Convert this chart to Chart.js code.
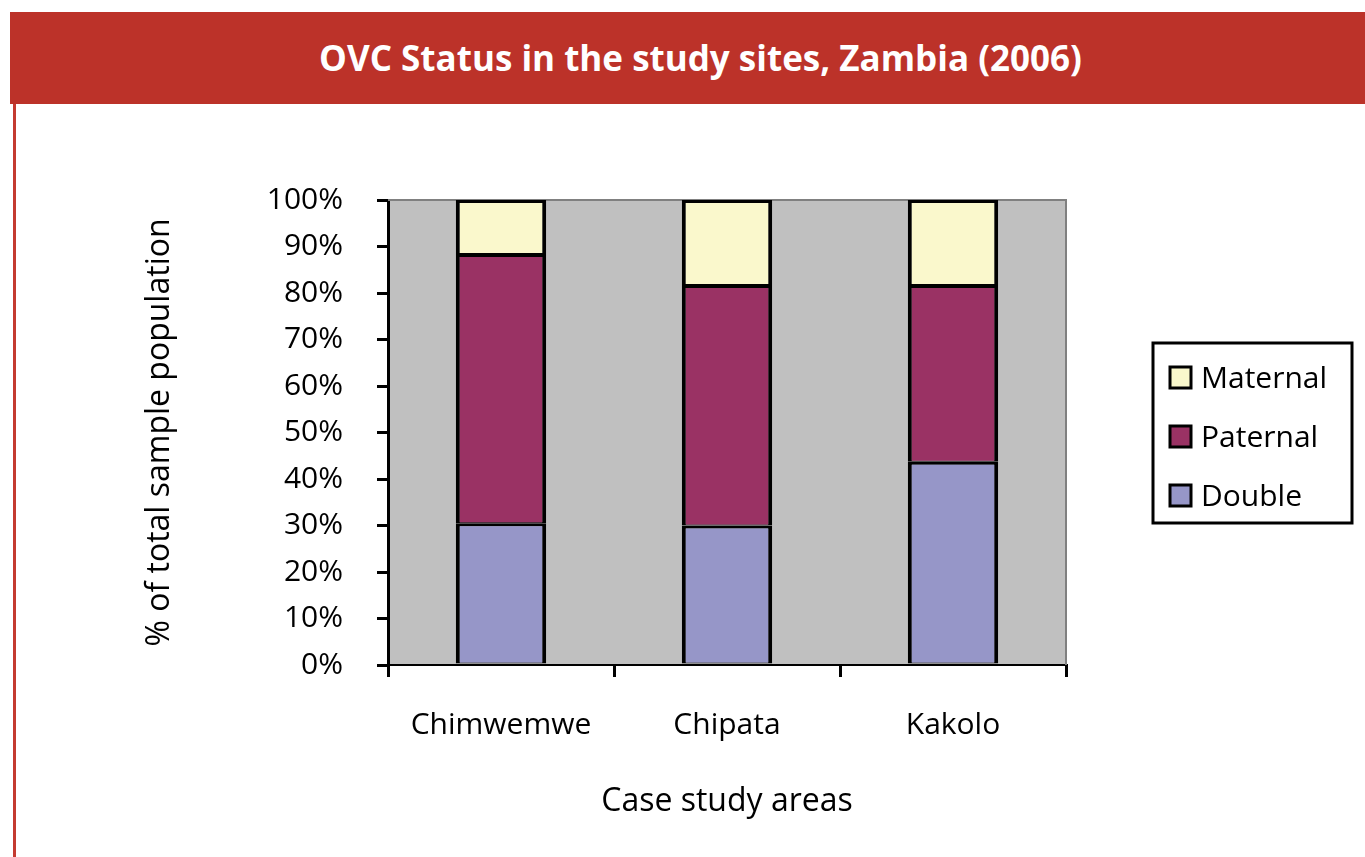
<!DOCTYPE html>
<html>
<head>
<meta charset="utf-8">
<title>OVC Status in the study sites, Zambia (2006)</title>
<script src="https://cdn.jsdelivr.net/npm/chart.js@4.4.1/dist/chart.umd.min.js"></script>
<style>
  html, body { margin: 0; padding: 0; background: #fff; width: 1365px; height: 857px; overflow: hidden; position: relative; font-family: 'Open Sans', sans-serif; }
  #band { position: absolute; left: 10px; top: 12px; width: 1355px; height: 92px; background: #bc3229; color: #fff;
          font-weight: 700; font-size: 35px; line-height: 92px; text-align: center; padding-left: 26px; box-sizing: border-box; }
  #edge { position: absolute; left: 13px; top: 104px; width: 3px; height: 753px; background: #c43b31; }
  #chart { position: absolute; left: 0; top: 0; }
</style>
</head>
<body>
<div id="band">OVC Status in the study sites, Zambia (2006)</div>
<div id="edge"></div>
<canvas id="chart" width="1365" height="857"></canvas>

<script>
/* ── Data (% of total sample) ── */
const categories = ['Chimwemwe', 'Chipata', 'Kakolo'];
const doubleOrphans   = [30.5, 30.0, 43.7];
const paternalOrphans = [57.9, 51.7, 38.0];
const maternalOrphans = [11.6, 18.3, 18.3];

const seriesLabels = ['Double', 'Paternal', 'Maternal'];
const seriesColors = ['#9696c8', '#9a3264', '#faf8cc'];

const TICK_FONT  = { family: "'Open Sans', sans-serif", size: 30 };
const TITLE_FONT = { family: "'Open Sans', sans-serif", size: 32 };

/* ── Grey plot area + grey top/right frame ── */
const plotBackground = {
  id: 'plotBackground',
  beforeDraw(chart) {
    const { ctx, chartArea: a } = chart;
    ctx.save();
    ctx.fillStyle = '#c0c0c0';
    ctx.fillRect(a.left, a.top, a.right - a.left, a.bottom - a.top);
    ctx.restore();
  },
  beforeDatasetsDraw(chart) {
    const { ctx, chartArea: a } = chart;
    ctx.save();
    ctx.strokeStyle = '#808080';
    ctx.lineWidth = 2;
    ctx.beginPath();
    ctx.moveTo(a.left, a.top);
    ctx.lineTo(a.right, a.top);
    ctx.lineTo(a.right, a.bottom);
    ctx.stroke();
    ctx.restore();
  },
};

/* ── Boxed legend to the right (top series first) ── */
const legendBox = {
  id: 'legendBox',
  afterDraw(chart) {
    const { ctx, chartArea: a } = chart;
    const x = a.right + 87, y = a.top + 143, w = 199, h = 180;
    ctx.save();
    ctx.fillStyle = '#fff';
    ctx.fillRect(x, y, w, h);
    ctx.lineWidth = 3;
    ctx.strokeStyle = '#000';
    ctx.strokeRect(x, y, w, h);
    ctx.font = `${TICK_FONT.size}px ${TICK_FONT.family}`;
    ctx.textBaseline = 'middle';
    chart.data.datasets.slice().reverse().forEach((ds, i) => {
      const cy = y + 35 + i * 59;
      ctx.fillStyle = ds.backgroundColor;
      ctx.fillRect(x + 17, cy - 11, 21, 21);
      ctx.lineWidth = 3;
      ctx.strokeRect(x + 17, cy - 11, 21, 21);
      ctx.fillStyle = '#000';
      ctx.fillText(ds.label, x + 48, cy + 1);
    });
    ctx.restore();
  },
};

const seriesData = [doubleOrphans, paternalOrphans, maternalOrphans];

new Chart(document.getElementById('chart'), {
  type: 'bar',
  data: {
    labels: categories,
    datasets: seriesData.map((data, i) => ({
      label: seriesLabels[i],
      data,
      backgroundColor: seriesColors[i],
      borderColor: '#000',
      borderWidth: { left: 4, right: 4, top: 3, bottom: 1 },
      borderSkipped: false,
      inflateAmount: 0,
      categoryPercentage: 1,
      barPercentage: 0.4,
    })),
  },
  options: {
    responsive: false,
    devicePixelRatio: 1,
    animation: false,
    layout: { padding: { top: 200, right: 299, left: 0, bottom: 0 } },
    plugins: {
      legend: { display: false },
      tooltip: { enabled: false },
    },
    scales: {
      x: {
        stacked: true,
        afterFit: s => { s.height = 192; },
        grid: { offset: true, drawOnChartArea: false, drawTicks: true, tickLength: 12, color: '#000', lineWidth: 3 },
        border: { display: true, color: '#000', width: 2 },
        ticks: { color: '#000', font: TICK_FONT, padding: 30, maxRotation: 0 },
        title: { display: true, text: 'Case study areas', color: '#000', font: TITLE_FONT, padding: { top: 0, bottom: 36 } },
      },
      y: {
        stacked: true,
        min: 0,
        max: 100,
        afterFit: s => { s.width = 388; },
        grid: { drawOnChartArea: false, drawTicks: true, tickLength: 11, color: '#000', lineWidth: 3 },
        border: { display: true, color: '#000', width: 3 },
        ticks: { stepSize: 10, color: '#000', font: TICK_FONT, padding: 34, callback: v => v + '%' },
        title: { display: true, text: '% of total sample population', color: '#000', font: TITLE_FONT, padding: { top: 141, bottom: 0 } },
      },
    },
  },
  plugins: [plotBackground, legendBox],
});
</script>
</body>
</html>
